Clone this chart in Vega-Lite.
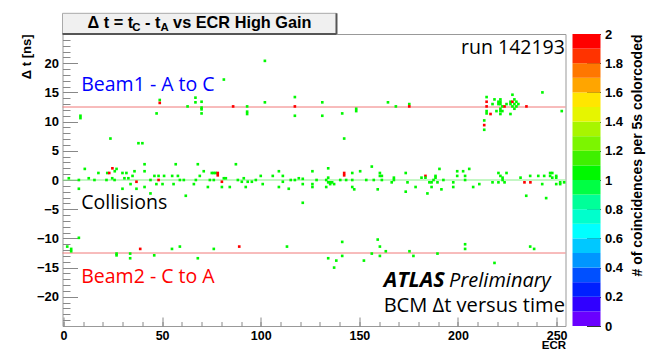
{
  "$schema": "https://vega.github.io/schema/vega-lite/v6.json",
  "autosize": {"type": "pad"},
  "padding": {"left": 19.5, "top": 11, "right": 2, "bottom": 0},
  "background": "white",
  "bounds": "flush",
  "spacing": 7,
  "config": {
    "font": "Liberation Sans",
    "view": {"stroke": "#999", "strokeWidth": 1}
  },
  "hconcat": [
    {
      "width": 503,
      "height": 292,
      "resolve": {"axis": {"x": "independent", "y": "independent"}},
      "layer": [
        {
          "data": {"values": [{}]},
          "mark": {"type": "point", "opacity": 0},
          "encoding": {
            "x": {"datum": 0, "type": "quantitative", "scale": {"domain": [-0.5, 254.5], "nice": false, "zero": false},
              "axis": {"orient": "bottom", "values": [0, 10, 20, 30, 40, 50, 60, 70, 80, 90, 100, 110, 120, 130, 140, 150, 160, 170, 180, 190, 200, 210, 220, 230, 240, 250],
                "tickSize": -4.5, "tickColor": "#888", "labels": false, "title": null, "domain": false, "grid": false}},
            "y": {"datum": 0, "type": "quantitative", "scale": {"domain": [-25, 25], "nice": false, "zero": false},
              "axis": {"orient": "left", "values": [-24, -23, -22, -21, -20, -19, -18, -17, -16, -15, -14, -13, -12, -11, -10, -9, -8, -7, -6, -5, -4, -3, -2, -1, 0, 1, 2, 3, 4, 5, 6, 7, 8, 9, 10, 11, 12, 13, 14, 15, 16, 17, 18, 19, 20, 21, 22, 23, 24],
                "tickSize": -7.5, "tickColor": "#888", "labels": false, "title": null, "domain": false, "grid": false}}
          }
        },
        {
          "data": {"values": [{}]},
          "mark": {"type": "rect", "fill": "#f0f0f0", "stroke": "#aaa", "strokeWidth": 1},
          "encoding": {"x": {"datum": -0.5, "axis": null}, "x2": {"datum": 138.4}, "y": {"datum": 25, "axis": null}, "y2": {"datum": 28.54}}
        },
        {
          "data": {"values": [{}]},
          "mark": {"type": "rule", "color": "#555", "strokeWidth": 2},
          "encoding": {"x": {"datum": -0.5, "axis": null}, "x2": {"datum": 138.4}, "y": {"datum": 25, "axis": null}}
        },
        {
          "data": {"values": [{}]},
          "mark": {"type": "rule", "color": "#555", "strokeWidth": 2},
          "encoding": {"x": {"datum": 138.4, "axis": null}, "y": {"datum": 25, "axis": null}, "y2": {"datum": 28.54}}
        },
        {
          "data": {"values": [{}]},
          "mark": {"type": "rule", "color": "#f07878", "strokeWidth": 1},
          "encoding": {"y": {"datum": 12.5, "axis": null}}
        },
        {
          "data": {"values": [{}]},
          "mark": {"type": "rule", "color": "#f07878", "strokeWidth": 1},
          "encoding": {"y": {"datum": -12.5, "axis": null}}
        },
        {
          "data": {"values": [{}]},
          "mark": {"type": "rule", "color": "#88ee88", "strokeWidth": 1},
          "encoding": {"y": {"datum": 0, "axis": null}}
        },
        {
          "data": {"values": [
            {"ecr": 8.6, "dt": 11.0, "n": 1}, {"ecr": 8.6, "dt": 10.6, "n": 1}, {"ecr": 48.8, "dt": 13.7, "n": 1}, {"ecr": 48.8, "dt": 13.2, "n": 2},
            {"ecr": 47.2, "dt": 11.4, "n": 1}, {"ecr": 62.9, "dt": 12.6, "n": 1}, {"ecr": 66.9, "dt": 14.1, "n": 1}, {"ecr": 66.9, "dt": 13.3, "n": 1},
            {"ecr": 70.0, "dt": 13.4, "n": 1}, {"ecr": 70.0, "dt": 12.4, "n": 1}, {"ecr": 70.0, "dt": 12.1, "n": 1}, {"ecr": 70.0, "dt": 11.4, "n": 1},
            {"ecr": 86.0, "dt": 12.6, "n": 2}, {"ecr": 93.1, "dt": 12.6, "n": 1}, {"ecr": 93.1, "dt": 11.7, "n": 1}, {"ecr": 93.1, "dt": 11.3, "n": 1},
            {"ecr": 102.1, "dt": 13.3, "n": 1}, {"ecr": 117.3, "dt": 14.2, "n": 1}, {"ecr": 117.3, "dt": 12.6, "n": 2}, {"ecr": 117.3, "dt": 11.0, "n": 1},
            {"ecr": 131.2, "dt": 13.3, "n": 1}, {"ecr": 131.2, "dt": 11.0, "n": 1}, {"ecr": 141.3, "dt": 11.4, "n": 1}, {"ecr": 148.4, "dt": 12.2, "n": 1},
            {"ecr": 148.4, "dt": 11.8, "n": 1}, {"ecr": 164.5, "dt": 13.3, "n": 1}, {"ecr": 168.5, "dt": 12.6, "n": 1}, {"ecr": 175.3, "dt": 13.0, "n": 1},
            {"ecr": 175.3, "dt": 12.6, "n": 2}, {"ecr": 213.3, "dt": 10.2, "n": 1}, {"ecr": 213.3, "dt": 9.4, "n": 2}, {"ecr": 213.3, "dt": 8.6, "n": 1},
            {"ecr": 214.5, "dt": 14.2, "n": 1}, {"ecr": 214.5, "dt": 13.4, "n": 2}, {"ecr": 214.5, "dt": 12.6, "n": 2}, {"ecr": 214.5, "dt": 11.8, "n": 1},
            {"ecr": 214.5, "dt": 11.4, "n": 1}, {"ecr": 216.5, "dt": 11.3, "n": 2}, {"ecr": 217.5, "dt": 13.0, "n": 1}, {"ecr": 218.5, "dt": 13.8, "n": 1},
            {"ecr": 219.5, "dt": 11.8, "n": 1}, {"ecr": 220.5, "dt": 13.4, "n": 1}, {"ecr": 220.5, "dt": 13.0, "n": 1}, {"ecr": 221.5, "dt": 13.8, "n": 1},
            {"ecr": 221.5, "dt": 13.4, "n": 1}, {"ecr": 221.5, "dt": 13.0, "n": 1}, {"ecr": 221.5, "dt": 12.2, "n": 1}, {"ecr": 221.5, "dt": 11.8, "n": 1},
            {"ecr": 221.5, "dt": 11.3, "n": 1}, {"ecr": 222.5, "dt": 12.6, "n": 1}, {"ecr": 222.5, "dt": 11.8, "n": 1}, {"ecr": 223.6, "dt": 12.6, "n": 2},
            {"ecr": 224.6, "dt": 13.0, "n": 1}, {"ecr": 226.6, "dt": 13.4, "n": 1}, {"ecr": 226.6, "dt": 13.0, "n": 1}, {"ecr": 226.6, "dt": 11.3, "n": 1},
            {"ecr": 227.6, "dt": 14.6, "n": 1}, {"ecr": 227.6, "dt": 13.4, "n": 2}, {"ecr": 227.6, "dt": 12.6, "n": 1}, {"ecr": 228.6, "dt": 13.8, "n": 1},
            {"ecr": 228.6, "dt": 13.0, "n": 1}, {"ecr": 228.6, "dt": 12.2, "n": 1}, {"ecr": 229.6, "dt": 13.4, "n": 1}, {"ecr": 229.6, "dt": 12.6, "n": 1},
            {"ecr": 230.6, "dt": 13.0, "n": 1}, {"ecr": 234.7, "dt": 12.6, "n": 2}, {"ecr": 242.8, "dt": 15.0, "n": 1}, {"ecr": 252.6, "dt": 11.8, "n": 1},
            {"ecr": 102.1, "dt": 20.4, "n": 1}, {"ecr": 81.3, "dt": 17.2, "n": 1}, {"ecr": 23.8, "dt": 7.1, "n": 1}, {"ecr": 38.0, "dt": 6.3, "n": 1},
            {"ecr": 40.0, "dt": 6.3, "n": 1}, {"ecr": 142.3, "dt": 7.1, "n": 1}, {"ecr": 121.3, "dt": -3.9, "n": 1},
            {"ecr": 2.7, "dt": 0.3, "n": 1}, {"ecr": 7.8, "dt": 0.0, "n": 1}, {"ecr": 7.8, "dt": -1.5, "n": 1}, {"ecr": 10.8, "dt": 1.9, "n": 1},
            {"ecr": 12.8, "dt": 0.3, "n": 1}, {"ecr": 15.7, "dt": 0.0, "n": 1}, {"ecr": 17.7, "dt": 1.2, "n": 1}, {"ecr": 21.8, "dt": 0.0, "n": 1},
            {"ecr": 22.2, "dt": 1.2, "n": 1}, {"ecr": 23.2, "dt": 1.2, "n": 2}, {"ecr": 24.8, "dt": 2.0, "n": 2}, {"ecr": 24.7, "dt": 0.3, "n": 1},
            {"ecr": 25.9, "dt": 0.0, "n": 1}, {"ecr": 26.0, "dt": 1.5, "n": 1}, {"ecr": 26.9, "dt": 1.9, "n": 1}, {"ecr": 29.9, "dt": 1.2, "n": 1},
            {"ecr": 29.9, "dt": -1.5, "n": 1}, {"ecr": 30.9, "dt": 0.3, "n": 1}, {"ecr": 31.9, "dt": 1.2, "n": 1}, {"ecr": 32.9, "dt": 0.3, "n": 1},
            {"ecr": 34.0, "dt": -0.7, "n": 1}, {"ecr": 35.0, "dt": 0.7, "n": 1}, {"ecr": 36.0, "dt": 1.5, "n": 1}, {"ecr": 37.0, "dt": -0.3, "n": 2},
            {"ecr": 37.0, "dt": -1.5, "n": 1}, {"ecr": 41.1, "dt": 2.7, "n": 1}, {"ecr": 41.1, "dt": 1.5, "n": 1}, {"ecr": 41.1, "dt": -1.2, "n": 1},
            {"ecr": 44.1, "dt": 0.0, "n": 1}, {"ecr": 44.1, "dt": -2.3, "n": 1}, {"ecr": 46.1, "dt": 0.7, "n": 1}, {"ecr": 47.1, "dt": -0.7, "n": 1},
            {"ecr": 48.2, "dt": 0.7, "n": 1}, {"ecr": 48.2, "dt": 0.0, "n": 2}, {"ecr": 50.2, "dt": -0.7, "n": 1}, {"ecr": 51.0, "dt": 0.7, "n": 1},
            {"ecr": 55.1, "dt": 0.7, "n": 1}, {"ecr": 55.8, "dt": -0.7, "n": 1}, {"ecr": 56.9, "dt": 2.7, "n": 1}, {"ecr": 58.0, "dt": 0.7, "n": 1},
            {"ecr": 59.0, "dt": 0.0, "n": 1}, {"ecr": 61.0, "dt": 0.0, "n": 1}, {"ecr": 62.0, "dt": -2.7, "n": 1}, {"ecr": 66.1, "dt": -0.7, "n": 1},
            {"ecr": 67.1, "dt": 0.0, "n": 1}, {"ecr": 68.1, "dt": 2.7, "n": 1}, {"ecr": 69.1, "dt": 0.7, "n": 1}, {"ecr": 71.1, "dt": 1.5, "n": 1},
            {"ecr": 73.2, "dt": -1.2, "n": 1}, {"ecr": 74.2, "dt": 0.0, "n": 1}, {"ecr": 75.2, "dt": 1.2, "n": 1}, {"ecr": 76.2, "dt": 1.2, "n": 1},
            {"ecr": 76.2, "dt": 0.0, "n": 1}, {"ecr": 77.2, "dt": 1.2, "n": 1}, {"ecr": 78.2, "dt": 1.2, "n": 2}, {"ecr": 78.2, "dt": 0.8, "n": 2},
            {"ecr": 80.3, "dt": -0.3, "n": 2}, {"ecr": 80.3, "dt": -1.2, "n": 1}, {"ecr": 81.3, "dt": 0.3, "n": 1}, {"ecr": 82.3, "dt": 0.3, "n": 1},
            {"ecr": 84.3, "dt": -1.2, "n": 1}, {"ecr": 87.4, "dt": 2.7, "n": 1}, {"ecr": 88.4, "dt": 0.0, "n": 1}, {"ecr": 90.4, "dt": -0.3, "n": 1},
            {"ecr": 91.4, "dt": 0.3, "n": 1}, {"ecr": 92.4, "dt": -1.2, "n": 1}, {"ecr": 93.4, "dt": -0.3, "n": 1}, {"ecr": 95.5, "dt": -0.3, "n": 1},
            {"ecr": 97.5, "dt": 0.0, "n": 1}, {"ecr": 100.0, "dt": 0.7, "n": 1}, {"ecr": 101.0, "dt": -0.7, "n": 1}, {"ecr": 106.1, "dt": 0.7, "n": 1},
            {"ecr": 109.2, "dt": 1.5, "n": 1}, {"ecr": 109.2, "dt": -1.2, "n": 1}, {"ecr": 111.2, "dt": 0.7, "n": 1}, {"ecr": 111.2, "dt": -0.3, "n": 1},
            {"ecr": 114.2, "dt": -1.5, "n": 1}, {"ecr": 115.2, "dt": 0.0, "n": 1}, {"ecr": 117.3, "dt": 0.0, "n": 1}, {"ecr": 119.3, "dt": 0.3, "n": 1},
            {"ecr": 121.3, "dt": -0.7, "n": 1}, {"ecr": 121.3, "dt": 0.2, "n": 1}, {"ecr": 126.2, "dt": 1.5, "n": 1}, {"ecr": 126.2, "dt": -0.7, "n": 1},
            {"ecr": 126.2, "dt": -1.2, "n": 1}, {"ecr": 128.3, "dt": 0.0, "n": 1}, {"ecr": 133.2, "dt": 0.0, "n": 1}, {"ecr": 133.2, "dt": -1.2, "n": 1},
            {"ecr": 134.2, "dt": 2.0, "n": 1}, {"ecr": 134.2, "dt": 0.4, "n": 1}, {"ecr": 134.2, "dt": -0.4, "n": 1}, {"ecr": 135.2, "dt": -0.4, "n": 1},
            {"ecr": 135.2, "dt": -0.7, "n": 1}, {"ecr": 136.2, "dt": -0.4, "n": 1}, {"ecr": 137.2, "dt": -0.7, "n": 1}, {"ecr": 140.3, "dt": 0.0, "n": 1},
            {"ecr": 142.3, "dt": 1.2, "n": 2}, {"ecr": 142.3, "dt": 0.8, "n": 2}, {"ecr": 143.3, "dt": 0.0, "n": 1}, {"ecr": 146.4, "dt": 1.2, "n": 1},
            {"ecr": 146.4, "dt": 0.0, "n": 1}, {"ecr": 146.4, "dt": -1.2, "n": 1}, {"ecr": 147.4, "dt": -1.6, "n": 1}, {"ecr": 150.4, "dt": 1.5, "n": 1},
            {"ecr": 153.5, "dt": 0.0, "n": 1}, {"ecr": 156.3, "dt": 2.3, "n": 1}, {"ecr": 157.3, "dt": 0.0, "n": 1}, {"ecr": 159.3, "dt": -1.6, "n": 1},
            {"ecr": 160.4, "dt": 1.2, "n": 1}, {"ecr": 160.4, "dt": 0.7, "n": 1}, {"ecr": 161.4, "dt": 0.7, "n": 1}, {"ecr": 161.4, "dt": 0.0, "n": 1},
            {"ecr": 166.4, "dt": -0.4, "n": 1}, {"ecr": 167.5, "dt": 0.4, "n": 1}, {"ecr": 167.5, "dt": 0.0, "n": 1}, {"ecr": 173.5, "dt": 1.2, "n": 1},
            {"ecr": 173.5, "dt": -2.0, "n": 1}, {"ecr": 174.4, "dt": -0.4, "n": 1}, {"ecr": 178.5, "dt": -1.2, "n": 1}, {"ecr": 181.5, "dt": 0.4, "n": 1},
            {"ecr": 183.5, "dt": 0.7, "n": 2}, {"ecr": 183.5, "dt": 0.4, "n": 1}, {"ecr": 184.5, "dt": -2.3, "n": 1}, {"ecr": 185.5, "dt": -0.4, "n": 1},
            {"ecr": 186.6, "dt": -0.4, "n": 1}, {"ecr": 186.6, "dt": -1.2, "n": 1}, {"ecr": 187.6, "dt": 0.0, "n": 1}, {"ecr": 188.6, "dt": 0.7, "n": 1},
            {"ecr": 188.6, "dt": 0.4, "n": 1}, {"ecr": 189.6, "dt": -0.4, "n": 1}, {"ecr": 190.6, "dt": 1.9, "n": 1}, {"ecr": 191.6, "dt": -1.6, "n": 1},
            {"ecr": 192.6, "dt": 0.0, "n": 1}, {"ecr": 197.6, "dt": -0.4, "n": 1}, {"ecr": 197.6, "dt": -1.2, "n": 1}, {"ecr": 199.6, "dt": 1.5, "n": 1},
            {"ecr": 199.6, "dt": 0.7, "n": 1}, {"ecr": 202.6, "dt": 1.5, "n": 1}, {"ecr": 203.6, "dt": 0.7, "n": 1}, {"ecr": 203.6, "dt": 0.0, "n": 1},
            {"ecr": 205.7, "dt": 1.9, "n": 1}, {"ecr": 207.7, "dt": -1.2, "n": 1}, {"ecr": 210.8, "dt": -0.7, "n": 1}, {"ecr": 217.5, "dt": -0.4, "n": 1},
            {"ecr": 220.5, "dt": 1.2, "n": 1}, {"ecr": 220.5, "dt": -0.4, "n": 1}, {"ecr": 221.5, "dt": 0.7, "n": 1}, {"ecr": 222.6, "dt": 0.4, "n": 1},
            {"ecr": 222.6, "dt": 0.0, "n": 1}, {"ecr": 223.6, "dt": -0.4, "n": 1}, {"ecr": 224.6, "dt": 1.2, "n": 1}, {"ecr": 231.7, "dt": 0.4, "n": 1},
            {"ecr": 233.7, "dt": -0.4, "n": 2}, {"ecr": 236.7, "dt": -0.4, "n": 2}, {"ecr": 234.6, "dt": -2.7, "n": 1}, {"ecr": 236.6, "dt": 0.7, "n": 1},
            {"ecr": 240.7, "dt": 0.7, "n": 1}, {"ecr": 242.7, "dt": -0.7, "n": 1}, {"ecr": 243.7, "dt": 0.7, "n": 1}, {"ecr": 244.7, "dt": -3.1, "n": 1},
            {"ecr": 246.7, "dt": 1.2, "n": 1}, {"ecr": 246.7, "dt": 0.7, "n": 1}, {"ecr": 247.8, "dt": 1.2, "n": 1}, {"ecr": 247.8, "dt": 0.4, "n": 1},
            {"ecr": 249.8, "dt": 0.7, "n": 1}, {"ecr": 249.8, "dt": 0.4, "n": 1}, {"ecr": 249.8, "dt": -0.7, "n": 1}, {"ecr": 251.8, "dt": -0.4, "n": 1},
            {"ecr": 251.8, "dt": -0.7, "n": 1}, {"ecr": 253.8, "dt": -0.4, "n": 1},
            {"ecr": 7.8, "dt": -9.9, "n": 1}, {"ecr": 1.9, "dt": -11.4, "n": 1}, {"ecr": 3.9, "dt": -11.8, "n": 1}, {"ecr": 3.9, "dt": -12.2, "n": 1},
            {"ecr": 26.9, "dt": -12.6, "n": 1}, {"ecr": 26.9, "dt": -12.9, "n": 1}, {"ecr": 33.8, "dt": -12.6, "n": 1}, {"ecr": 33.8, "dt": -13.4, "n": 1},
            {"ecr": 38.9, "dt": -11.8, "n": 2}, {"ecr": 46.0, "dt": -12.9, "n": 1}, {"ecr": 55.0, "dt": -11.8, "n": 1}, {"ecr": 59.0, "dt": -11.4, "n": 1},
            {"ecr": 68.1, "dt": -13.4, "n": 1}, {"ecr": 76.2, "dt": -11.8, "n": 1}, {"ecr": 89.1, "dt": -11.4, "n": 2}, {"ecr": 113.3, "dt": -11.4, "n": 1},
            {"ecr": 134.2, "dt": -13.4, "n": 1}, {"ecr": 137.2, "dt": -15.0, "n": 1}, {"ecr": 138.3, "dt": -13.8, "n": 1}, {"ecr": 141.3, "dt": -10.6, "n": 1},
            {"ecr": 141.3, "dt": -13.0, "n": 1}, {"ecr": 152.3, "dt": -13.8, "n": 1}, {"ecr": 156.3, "dt": -12.6, "n": 1}, {"ecr": 159.3, "dt": -10.2, "n": 1},
            {"ecr": 160.4, "dt": -11.4, "n": 1}, {"ecr": 160.4, "dt": -13.0, "n": 1}, {"ecr": 163.4, "dt": -12.2, "n": 1}, {"ecr": 175.4, "dt": -12.2, "n": 1},
            {"ecr": 177.4, "dt": -13.0, "n": 1}, {"ecr": 189.6, "dt": -12.6, "n": 1}, {"ecr": 203.6, "dt": -11.0, "n": 1}, {"ecr": 203.6, "dt": -11.8, "n": 1},
            {"ecr": 218.5, "dt": -14.2, "n": 1}, {"ecr": 236.6, "dt": -11.4, "n": 1}, {"ecr": 238.6, "dt": -11.8, "n": 1}
          ]},
          "mark": {"type": "point", "shape": "square", "filled": true, "size": 7, "opacity": 1},
          "encoding": {
            "x": {
              "field": "ecr", "type": "quantitative",
              "scale": {"domain": [-0.5, 254.5], "nice": false, "zero": false},
              "axis": {
                "orient": "bottom",
                "title": "ECR", "titleAnchor": "end", "titleFontSize": 11.5, "titleFontWeight": "bold", "titleColor": "black", "titlePadding": -2,
                "values": [0, 50, 100, 150, 200, 250], "format": "d",
                "tickSize": -9, "tickColor": "#888", "labelPadding": 12, "labelFontSize": 12.5, "labelFontWeight": "bold", "labelColor": "black",
                "labelOverlap": false, "labelFlush": false, "labelBound": false, "grid": false, "domain": false
              }
            },
            "y": {
              "field": "dt", "type": "quantitative",
              "scale": {"domain": [-25, 25], "nice": false, "zero": false},
              "axis": {
                "orient": "left",
                "title": "Δ t [ns]", "titleAnchor": "end", "titleAlign": "right", "titleFontSize": 13, "titleFontWeight": "bold", "titleColor": "black", "titlePadding": 3,
                "values": [-20, -15, -10, -5, 0, 5, 10, 15, 20], "format": "d",
                "tickSize": -15, "tickColor": "#888", "labelPadding": 19, "labelFontSize": 13, "labelFontWeight": "bold", "labelColor": "black",
                "labelOverlap": false, "labelFlush": false, "labelBound": false, "grid": false, "domain": false
              }
            },
            "color": {
              "field": "n", "type": "quantitative",
              "scale": {"type": "threshold", "domain": [0.1, 0.2, 0.3, 0.4, 0.5, 0.6, 0.7, 0.8, 0.9, 1.0, 1.1, 1.2, 1.3, 1.4, 1.5, 1.6, 1.7, 1.8, 1.9],
                "range": ["#6a00ff", "#3000ff", "#0020ff", "#0050ff", "#0096ff", "#00c8ff", "#00ffff", "#00ffcc", "#00ff99", "#00ff44", "#00f800", "#3ff000", "#7cf500", "#a8f500", "#e6f500", "#ffe600", "#ffa500", "#ff7700", "#ff3300", "#ff0000"]},
              "legend": null
            }
          }
        },
        {
          "data": {"values": [{}]},
          "mark": {"type": "text", "text": "Beam1 - A to C", "font": "Open Sans", "fontSize": 19.5, "color": "#0000ff", "align": "left", "baseline": "alphabetic"},
          "encoding": {"x": {"datum": 9.0, "axis": null}, "y": {"datum": 15.2, "axis": null}}
        },
        {
          "data": {"values": [{}]},
          "mark": {"type": "text", "text": "Collisions", "font": "Open Sans", "fontSize": 19.5, "color": "black", "align": "left", "baseline": "alphabetic"},
          "encoding": {"x": {"datum": 9.0, "axis": null}, "y": {"datum": -4.97, "axis": null}}
        },
        {
          "data": {"values": [{}]},
          "mark": {"type": "text", "text": "Beam2 - C to A", "font": "Open Sans", "fontSize": 19.5, "color": "#ff0000", "align": "left", "baseline": "alphabetic"},
          "encoding": {"x": {"datum": 9.0, "axis": null}, "y": {"datum": -17.64, "axis": null}}
        },
        {
          "data": {"values": [{}]},
          "mark": {"type": "text", "text": "run 142193", "font": "Open Sans", "fontSize": 19.5, "color": "black", "align": "right", "baseline": "alphabetic"},
          "encoding": {"x": {"datum": 254.2, "axis": null}, "y": {"datum": 21.52, "axis": null}}
        },
        {
          "data": {"values": [{}]},
          "mark": {"type": "text", "text": "ATLAS", "font": "Open Sans", "fontSize": 21.5, "fontStyle": "italic", "fontWeight": "bold", "color": "black", "align": "left", "baseline": "alphabetic"},
          "encoding": {"x": {"datum": 162.3, "axis": null}, "y": {"datum": -18.32, "axis": null}}
        },
        {
          "data": {"values": [{}]},
          "mark": {"type": "text", "text": "Preliminary", "font": "Open Sans", "fontSize": 20, "fontStyle": "italic", "color": "black", "align": "left", "baseline": "alphabetic"},
          "encoding": {"x": {"datum": 195.5, "axis": null}, "y": {"datum": -18.32, "axis": null}}
        },
        {
          "data": {"values": [{}]},
          "mark": {"type": "text", "text": "BCM Δt versus time", "font": "Open Sans", "fontSize": 20.1, "color": "black", "align": "left", "baseline": "alphabetic"},
          "encoding": {"x": {"datum": 162.3, "axis": null}, "y": {"datum": -22.6, "axis": null}}
        },
        {
          "data": {"values": [{}]},
          "mark": {"type": "text", "text": "Δ t = t", "font": "Liberation Sans", "fontSize": 16.3, "fontWeight": "bold", "color": "black", "align": "left", "baseline": "alphabetic"},
          "encoding": {"x": {"datum": 12.17, "axis": null}, "y": {"datum": 26.08, "axis": null}}
        },
        {
          "data": {"values": [{}]},
          "mark": {"type": "text", "text": "C", "font": "Liberation Sans", "fontSize": 11.4, "fontWeight": "bold", "color": "black", "align": "left", "baseline": "alphabetic"},
          "encoding": {"x": {"datum": 34.88, "axis": null}, "y": {"datum": 25.51, "axis": null}}
        },
        {
          "data": {"values": [{}]},
          "mark": {"type": "text", "text": "- t", "font": "Liberation Sans", "fontSize": 16.3, "fontWeight": "bold", "color": "black", "align": "left", "baseline": "alphabetic"},
          "encoding": {"x": {"datum": 41.32, "axis": null}, "y": {"datum": 26.08, "axis": null}}
        },
        {
          "data": {"values": [{}]},
          "mark": {"type": "text", "text": "A", "font": "Liberation Sans", "fontSize": 11.4, "fontWeight": "bold", "color": "black", "align": "left", "baseline": "alphabetic"},
          "encoding": {"x": {"datum": 49.13, "axis": null}, "y": {"datum": 25.51, "axis": null}}
        },
        {
          "data": {"values": [{}]},
          "mark": {"type": "text", "text": "vs ECR High Gain", "font": "Liberation Sans", "fontSize": 16.3, "fontWeight": "bold", "color": "black", "align": "left", "baseline": "alphabetic"},
          "encoding": {"x": {"datum": 55.57, "axis": null}, "y": {"datum": 26.08, "axis": null}}
        }
      ]
    },
    {
      "width": 28,
      "height": 292,
      "view": {"stroke": null},
      "data": {"values": [
        {"lo": 0.0, "hi": 0.1, "v": 0.05}, {"lo": 0.1, "hi": 0.2, "v": 0.15}, {"lo": 0.2, "hi": 0.3, "v": 0.25}, {"lo": 0.3, "hi": 0.4, "v": 0.35},
        {"lo": 0.4, "hi": 0.5, "v": 0.45}, {"lo": 0.5, "hi": 0.6, "v": 0.55}, {"lo": 0.6, "hi": 0.7, "v": 0.65}, {"lo": 0.7, "hi": 0.8, "v": 0.75},
        {"lo": 0.8, "hi": 0.9, "v": 0.85}, {"lo": 0.9, "hi": 1.0, "v": 0.95}, {"lo": 1.0, "hi": 1.1, "v": 1.05}, {"lo": 1.1, "hi": 1.2, "v": 1.15},
        {"lo": 1.2, "hi": 1.3, "v": 1.25}, {"lo": 1.3, "hi": 1.4, "v": 1.35}, {"lo": 1.4, "hi": 1.5, "v": 1.45}, {"lo": 1.5, "hi": 1.6, "v": 1.55},
        {"lo": 1.6, "hi": 1.7, "v": 1.65}, {"lo": 1.7, "hi": 1.8, "v": 1.75}, {"lo": 1.8, "hi": 1.9, "v": 1.85}, {"lo": 1.9, "hi": 2.0, "v": 1.95}
      ]},
      "mark": {"type": "rect"},
      "encoding": {
        "y": {
          "field": "lo", "type": "quantitative",
          "scale": {"domain": [0, 2], "nice": false, "zero": false},
          "axis": {
            "orient": "right", "values": [0, 0.2, 0.4, 0.6, 0.8, 1, 1.2, 1.4, 1.6, 1.8, 2], "format": "~g",
            "tickSize": -14, "tickColor": "#333", "labelPadding": 18, "labelFontSize": 13, "labelFontWeight": "bold", "labelColor": "black",
            "labelFlush": false, "labelOverlap": false, "labelBound": false, "domain": false, "grid": false,
            "title": "# of coincidences per 5s colorcoded", "titleAngle": 270, "titleAnchor": "end", "titleAlign": "right", "titleBaseline": "top",
            "titleFontSize": 14, "titleFontWeight": "bold", "titleColor": "black", "titlePadding": 8
          }
        },
        "y2": {"field": "hi"},
        "color": {
          "field": "v", "type": "quantitative",
          "scale": {"type": "threshold", "domain": [0.1, 0.2, 0.3, 0.4, 0.5, 0.6, 0.7, 0.8, 0.9, 1.0, 1.1, 1.2, 1.3, 1.4, 1.5, 1.6, 1.7, 1.8, 1.9],
            "range": ["#6a00ff", "#3000ff", "#0020ff", "#0050ff", "#0096ff", "#00c8ff", "#00ffff", "#00ffcc", "#00ff99", "#00ff44", "#00f800", "#3ff000", "#7cf500", "#a8f500", "#e6f500", "#ffe600", "#ffa500", "#ff7700", "#ff3300", "#ff0000"]},
          "legend": null
        }
      }
    }
  ]
}
